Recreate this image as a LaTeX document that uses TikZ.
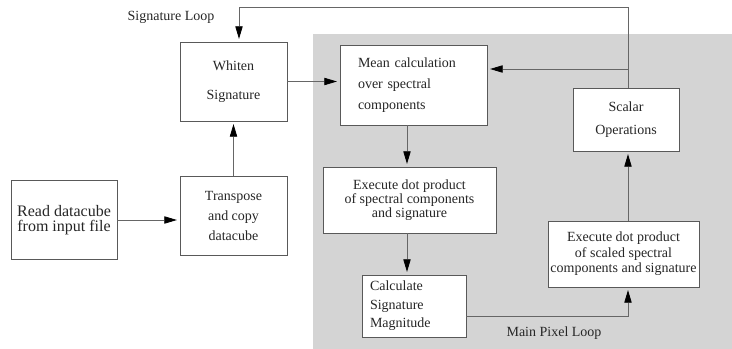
\documentclass[tikz,border=0pt]{standalone}
\usepackage{fontspec}
\setmainfont{Liberation Serif}
\usetikzlibrary{arrows.meta}

\begin{document}
\begin{tikzpicture}[
    x=0.75pt,y=-0.75pt,
    box/.style={rectangle,draw=black!65,fill=white,line width=0.6pt,inner sep=0pt,
                text=black!85,align=center},
    fs/.style 2 args={font=\fontsize{#1}{#2}\selectfont},
    >={Triangle[length=9.5pt,width=5.5pt,color=black]},
    wire/.style={draw=black!60,line width=0.6pt},
    arr/.style={wire,->,shorten >=2pt},
    tag/.style={fs={10.5}{12},text=black!85}
  ]
    \useasboundingbox (0,0) rectangle (732,349);
    \fill[black!17] (313,34) rectangle (732,349);

    \node[box,fs={12}{11.25},minimum width=79.5pt,minimum height=59.25pt] (read) at (64,220)
        {Read datacube\\from input file};
    \node[box,fs={10.5}{15},minimum width=80.25pt,minimum height=59.25pt] (trans) at (233.5,215.5)
        {Transpose\\and copy\\datacube};
    \node[box,fs={10.5}{21.75},minimum width=80.25pt,minimum height=59.25pt] (whiten) at (233.5,81.5)
        {Whiten\\Signature};
    \node[box,fs={10.5}{15.75},align=left,text width=83.25pt,inner xsep=13.5pt,
          minimum height=60pt] (mean) at (413.5,85)
        {Mean calculation\\over spectral\\components};
    \node[box,fs={10.5}{10.6},minimum width=129.75pt,minimum height=49.5pt] (exec1) at (409.5,200)
        {Execute dot product\\of spectral components\\and signature};
    \node[box,fs={10.5}{13.9},align=left,text width=66pt,inner xsep=6pt,
          minimum height=46.5pt] (calc) at (414,306)
        {Calculate\\Signature\\Magnitude};
    \node[box,fs={10.5}{11.6},minimum width=113.25pt,minimum height=49.5pt] (exec2) at (623.5,254)
        {Execute dot product\\of scaled spectral\\components and signature};
    \node[box,fs={10.5}{17.25},minimum width=79.5pt,minimum height=47.25pt] (scalar) at (626,119.5)
        {Scalar\\Operations};

    \node[tag] (sigloop) at (171,17) {Signature Loop};
    \node[tag] (pixloop) at (554,333) {Main Pixel Loop};

    % routing points
    \coordinate (spine) at (407,0);
    \coordinate (rspine) at (628,0);
    \coordinate (looptop) at (239,7);
    \coordinate (branch) at (628,69);
    \coordinate (pixrow) at (0,316);

    \draw[arr] (read) -- (read -| trans.west);
    \draw[arr] (trans) -- (whiten);
    \draw[arr] (whiten) -- (whiten -| mean.west);
    \draw[arr] (mean.south -| spine) -- (exec1.north -| spine);
    \draw[arr] (exec1.south -| spine) -- (calc.north -| spine);
    \draw[arr] (calc.east |- pixrow) -| (exec2.south -| rspine);
    \draw[arr] (exec2.north -| rspine) -- (scalar.south -| rspine);
    \draw[arr] (scalar.north -| rspine) |- (looptop) -- (looptop |- whiten.north);
    \draw[arr] (branch) -- (branch -| mean.east);
\end{tikzpicture}
\end{document}
